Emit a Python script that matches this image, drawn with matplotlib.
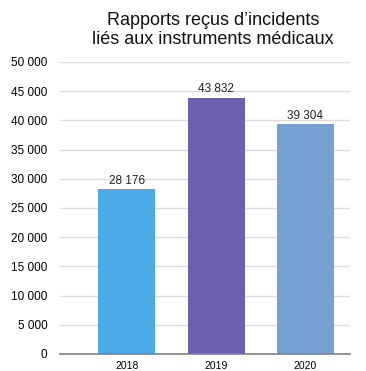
import matplotlib
matplotlib.use('Agg')
import matplotlib.pyplot as plt
from matplotlib.ticker import FuncFormatter, MultipleLocator

plt.rcParams['font.family'] = ['Liberation Sans', 'DejaVu Sans']

# reports per year
years = ['2018', '2019', '2020']
reports = [28176, 43832, 39304]
colors = ['#4DAAE8', '#6C60B0', '#78A0D2']

def fmt(v, pos=None):
    return '{:,}'.format(int(v)).replace(',', ' ')

fig = plt.figure(figsize=(3.66, 3.71), dpi=100)
ax = fig.add_axes([60/366, 17/371, 290/366, 292/371])

x = range(len(years))
bars = ax.bar(x, reports, width=0.64, color=colors, zorder=3)
for b, v in zip(bars, reports):
    ax.text(b.get_x() + b.get_width()/2, v + 500, fmt(v), ha='center', va='bottom',
            fontsize=8.5, color='#222222')

ax.set_xlim(-0.75, 2.5)
ax.set_ylim(0, 50000)
ax.yaxis.set_major_locator(MultipleLocator(5000))
ax.yaxis.set_major_formatter(FuncFormatter(fmt))
ax.set_xticks(list(x))
ax.set_xticklabels(years, fontsize=7.5)
ax.tick_params(axis='y', labelsize=8.5, length=0, pad=9)
ax.tick_params(axis='x', length=0, pad=5)
ax.grid(axis='y', color='#DDDDDD', linewidth=1, zorder=0)
for s in ['top', 'right', 'left']:
    ax.spines[s].set_visible(False)
ax.spines['bottom'].set_color('#808080')
ax.spines['bottom'].set_linewidth(1.2)
ax.spines['bottom'].set_zorder(4)

fig.text(213/366, 1 - 30/371, "Rapports reçus d’incidents\nliés aux instruments médicaux",
         ha='center', va='center', fontsize=13, linespacing=1.15, color='#111111')

fig.savefig('out.png', dpi=100)
